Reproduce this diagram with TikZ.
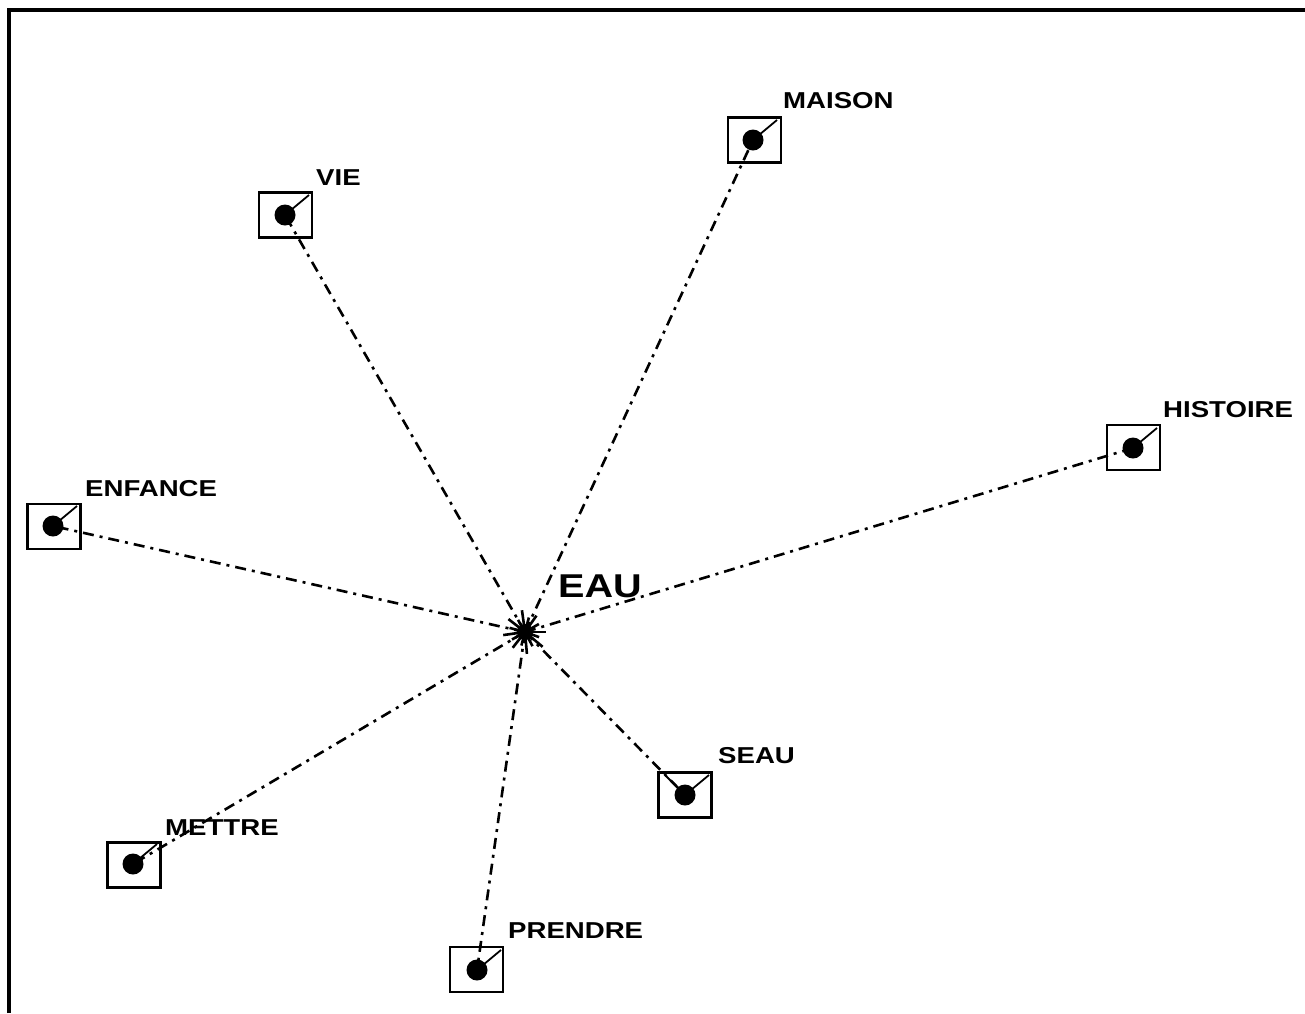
\documentclass[tikz,border=0pt]{standalone}
\usepackage{fontspec}
\setmainfont{Liberation Sans}
\usetikzlibrary{calc}
\begin{document}
\begin{tikzpicture}[x=1pt,y=-1pt,
  wbox/.style={draw, line width=2.5pt, minimum width=53pt, minimum height=45pt, inner sep=0pt},
  wdot/.style={fill, circle, minimum size=21pt, inner sep=0pt},
  wlabel/.style={anchor=base west, inner sep=0pt, font=\fontsize{23}{23}\selectfont\bfseries},
  biglabel/.style={anchor=base west, inner sep=0pt, font=\fontsize{33}{33}\selectfont\bfseries},
  conn/.style={line width=2.6pt, dash pattern=on 11pt off 6pt on 3pt off 6pt},
  tick/.style={line width=1.8pt}]
\useasboundingbox (0,0) rectangle (1305,1013);
% frame (top and left visible)
\draw[line width=4pt] (9,1013) -- (9,10) -- (1305,10);

% centre
\coordinate (eau) at (525,632);
\fill (eau) circle (8pt);
\foreach \a/\r in {0/21,20/15,40/23,62/16,85/22,105/14,128/20,150/15,172/22,195/16,218/21,240/14,262/22,285/15,305/20,330/16}
  \draw[line width=2.6pt] ($(eau)+(\a:5)$) -- ($(eau)+(\a:\r)$);
\node[biglabel] (eaul) at (558,597) {\scalebox{1.2}[1]{EAU}};

% boxes
\node[wbox] (viebox) at (285.5,215) {};
\node[wdot] (vie) at (285,215) {};
\node[wlabel] (viel) at (316,185) {\scalebox{1.2}[1]{VIE}};

\node[wbox] (maisonbox) at (754.5,140) {};
\node[wdot] (maison) at (753,140) {};
\node[wlabel] (maisonl) at (783,108) {\scalebox{1.2}[1]{MAISON}};

\node[wbox] (histbox) at (1133.5,447.5) {};
\node[wdot] (histoire) at (1133,448) {};
\node[wlabel] (histl) at (1163,417) {\scalebox{1.2}[1]{HISTOIRE}};

\node[wbox] (enfbox) at (54,526.5) {};
\node[wdot] (enfance) at (53,526) {};
\node[wlabel] (enfl) at (85,496) {\scalebox{1.2}[1]{ENFANCE}};

\node[wbox] (metbox) at (134,865) {};
\node[wdot] (mettre) at (133,864) {};
\node[wlabel] (metl) at (165,835) {\scalebox{1.2}[1]{METTRE}};

\node[wbox] (prebox) at (476.5,969.5) {};
\node[wdot] (prendre) at (477,970) {};
\node[wlabel] (prel) at (508,938) {\scalebox{1.2}[1]{PRENDRE}};

\node[wbox] (seaubox) at (685,795) {};
\node[wdot] (seau) at (685,795) {};
\node[wlabel] (seaul) at (718,763) {\scalebox{1.2}[1]{SEAU}};

% ticks from dot to corner
\foreach \n in {vie,maison,histoire,enfance,mettre,prendre,seau}
  \draw[tick] (\n.center) -- ++(24,-20);
\draw[tick] (seau.center) -- ++(-20,-20);

% connectors
\foreach \n in {vie,maison,histoire,enfance,mettre,prendre,seau}
  \draw[conn] (eau) -- (\n.center);
\end{tikzpicture}
\end{document}
